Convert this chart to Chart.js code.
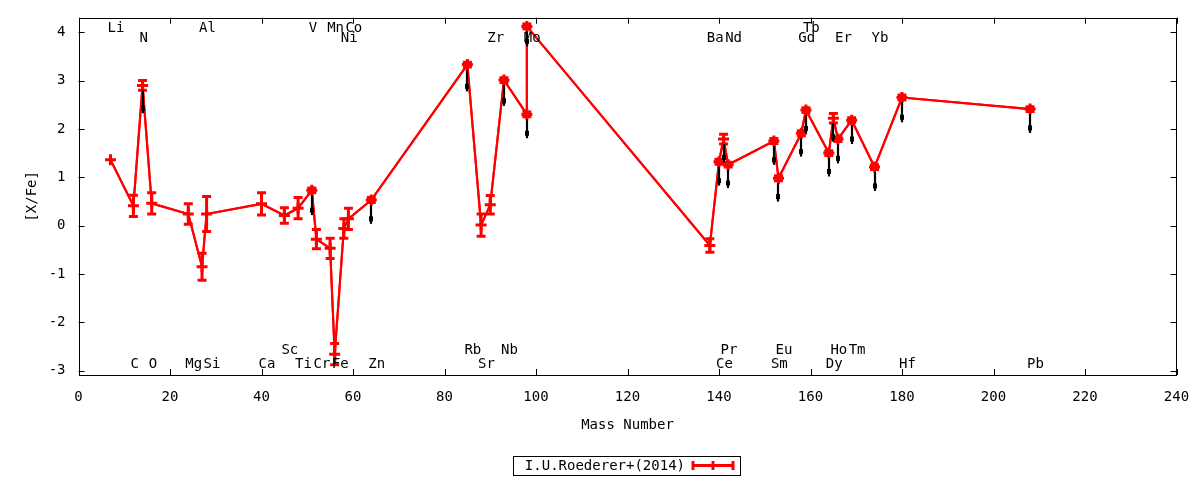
<!DOCTYPE html>
<html>
<head>
<meta charset="utf-8">
<script src="https://cdn.jsdelivr.net/npm/chart.js@4/dist/chart.umd.min.js"></script>
<style>
html,body{margin:0;padding:0;background:#fff;}
#wrap{width:1200px;height:480px;position:relative;}
</style>
</head>
<body>
<div id="wrap"><canvas id="c" width="1200" height="480"></canvas></div>
<script>
// ---- data ----
const elementNames = ['Li','C','N','O','Mg','Al','Si','Ca','Sc','Ti','V','Cr','Mn','Fe','Ni','Co','Zn','Rb','Sr','Zr','Nb','Mo','Mo','Ba','Ce','Pr','Nd','Sm','Eu','Gd','Tb','Dy','Ho','Er','Tm','Yb','Hf','Pb'];
const massNumbers = [7,12,14,16,24,27,28,40,45,48,51,52,55,56,58,59,64,85,88,90,93,98,98,138,140,141,142,152,153,158,159,164,165,166,169,174,180,208];
const abundances = [1.36,0.41,2.90,0.46,0.24,-0.85,0.24,0.45,0.21,0.36,0.73,-0.28,-0.47,-2.66,-0.06,0.14,0.53,3.33,0.01,0.43,3.01,2.30,4.12,-0.41,1.32,1.79,1.26,1.75,0.98,1.91,2.39,1.50,2.22,1.79,2.18,1.21,2.65,2.41];
const abundanceErrors = [0,0.22,0.1,0.22,0.21,0.28,0.36,0.23,0.16,0.22,0.05,0.2,0.21,0.22,0.2,0.22,0.05,0.05,0.23,0.19,0.05,0.05,0.05,0.14,0.05,0.1,0.05,0.05,0.05,0.05,0.05,0.05,0.1,0.05,0.05,0.05,0.05,0.05];
const lowerValues = [null,null,2.43,null,null,null,null,null,null,null,0.32,null,null,null,null,null,0.14,2.88,null,null,2.58,1.91,3.81,null,0.93,1.41,0.88,1.36,0.60,1.53,2.01,1.12,1.84,1.39,1.79,0.82,2.24,2.02];

const labelTop1 = ['Li','Al','V','Mn','Co','Tb'];
const labelTop1Mass = [7,27,51,55,59,159];
const labelTop2 = ['N','Ni','Zr','Mo','Ba','Nd','Gd','Er','Yb'];
const labelTop2Mass = [14,58,90,98,138,142,158,166,174];
const labelBot1 = ['Sc','Rb','Nb','Pr','Eu','Ho','Tm'];
const labelBot1Mass = [45,85,93,141,153,165,169];
const labelBot2 = ['C','O','Mg','Si','Ca','Ti','Cr','Fe','Zn','Sr','Ce','Sm','Dy','Hf','Pb'];
const labelBot2Mass = [12,16,24,28,40,48,52,56,64,88,140,152,164,180,208];

const yTicks = [-3,-2,-1,0,1,2,3,4];
const seriesName = 'I.U.Roederer+(2014)';
const xTitle = 'Mass Number';
const yTitle = '[X/Fe]';

const FONT = '"DejaVu Sans Mono", monospace';
const RED = '#ff0000';

const seriesPoints = massNumbers.map((m,i)=>({x:m,y:abundances[i]}));

const decor = {
  id:'decor',
  afterDatasetsDraw(chart){
    const ctx = chart.ctx, xs = chart.scales.x, ys = chart.scales.y, a = chart.chartArea;
    ctx.save();
    // connecting segments through the scales, as thin filled quads
    ctx.fillStyle = RED;
    for(let i=1;i<massNumbers.length;i++){
      const x1 = xs.getPixelForValue(massNumbers[i-1]), y1 = ys.getPixelForValue(abundances[i-1]);
      const x2 = xs.getPixelForValue(massNumbers[i]),   y2 = ys.getPixelForValue(abundances[i]);
      const dx = x2-x1, dy = y2-y1, len = Math.hypot(dx,dy) || 1;
      const nx = -dy/len, ny = dx/len, w = 1.1;
      ctx.beginPath();
      ctx.moveTo(x1+nx*w, y1+ny*w);
      ctx.lineTo(x2+nx*w, y2+ny*w);
      ctx.lineTo(x2-nx*w, y2-ny*w);
      ctx.lineTo(x1-nx*w, y1-ny*w);
      ctx.closePath();
      ctx.fill();
    }
    // error bars
    ctx.strokeStyle = RED; ctx.lineWidth = 3; ctx.lineCap = 'butt';
    abundanceErrors.forEach((e,i)=>{
      if(!e) return;
      const px = xs.getPixelForValue(massNumbers[i]);
      const yt = ys.getPixelForValue(abundances[i]+e);
      const yb = ys.getPixelForValue(abundances[i]-e);
      ctx.beginPath();
      ctx.moveTo(px,yt); ctx.lineTo(px,yb);
      ctx.moveTo(px-4.5,yt); ctx.lineTo(px+4.5,yt);
      ctx.moveTo(px-4.5,yb); ctx.lineTo(px+4.5,yb);
      ctx.stroke();
    });
    // black offsets
    ctx.strokeStyle = '#000'; ctx.fillStyle = '#000'; ctx.lineWidth = 2.2;
    lowerValues.forEach((v,i)=>{
      if(v===null) return;
      const px = Math.round(xs.getPixelForValue(massNumbers[i]));
      const y1 = ys.getPixelForValue(abundances[i]) + 5;
      const y2 = ys.getPixelForValue(v);
      ctx.beginPath(); ctx.moveTo(px,y1); ctx.lineTo(px,y2+5); ctx.stroke();
      ctx.fillRect(px-2,y2-2.5,4,5);
    });
    // frame and inward ticks
    ctx.strokeStyle = '#000'; ctx.lineWidth = 1;
    ctx.strokeRect(Math.round(a.left)+0.5, Math.round(a.top)+0.5, Math.round(a.right-a.left)-1, Math.round(a.bottom-a.top));
    ctx.beginPath();
    xs.ticks.forEach(t=>{
      const px = Math.round(xs.getPixelForValue(t.value))+0.5;
      ctx.moveTo(px,a.bottom); ctx.lineTo(px,a.bottom-6);
      ctx.moveTo(px,a.top); ctx.lineTo(px,a.top+6);
    });
    ys.ticks.forEach(t=>{
      const py = Math.round(ys.getPixelForValue(t.value))+0.5;
      ctx.moveTo(a.left,py); ctx.lineTo(a.left+6,py);
      ctx.moveTo(a.right,py); ctx.lineTo(a.right-6,py);
    });
    ctx.stroke();
    // element labels
    ctx.fillStyle = '#000';
    ctx.font = '14px ' + FONT;
    ctx.textAlign = 'left'; ctx.textBaseline = 'middle';
    const rows = [[labelTop1,labelTop1Mass,a.top+11],[labelTop2,labelTop2Mass,a.top+21],
                  [labelBot1,labelBot1Mass,a.bottom-25],[labelBot2,labelBot2Mass,a.bottom-11]];
    rows.forEach(([txt,ms,y])=>{
      txt.forEach((t,i)=>{ ctx.fillText(t, xs.getPixelForValue(ms[i])-3, y); });
    });
    // titles
    ctx.textAlign = 'center';
    ctx.fillText(xTitle, (a.left+a.right)/2, 425);
    ctx.save();
    ctx.translate(32, (a.top+a.bottom)/2);
    ctx.rotate(-Math.PI/2);
    ctx.fillText(yTitle, 0, 0);
    ctx.restore();
    // legend
    ctx.lineWidth = 1; ctx.strokeStyle = '#000';
    ctx.strokeRect(513.5,456.5,227,19);
    ctx.textAlign = 'right';
    ctx.fillText(seriesName, 685, 466);
    ctx.strokeStyle = RED; ctx.lineWidth = 3;
    ctx.beginPath();
    ctx.moveTo(692,465.5); ctx.lineTo(734,465.5);
    ctx.moveTo(693,461); ctx.lineTo(693,470);
    ctx.moveTo(733,461); ctx.lineTo(733,470);
    ctx.moveTo(713,461); ctx.lineTo(713,470);
    ctx.stroke();
    ctx.restore();
  }
};

new Chart(document.getElementById('c'), {
  type:'scatter',
  data:{datasets:[{
    label: seriesName,
    data: seriesPoints,
    showLine: true,
    borderColor: RED,
    backgroundColor: RED,
    borderWidth: 2,
    tension: 0,
    pointStyle: 'cross',
    pointRadius: 5.5,
    pointBorderWidth: 3,
    pointBorderColor: RED,
    pointHoverRadius: 5.5
  }]},
  options:{
    responsive:false,
    animation:false,
    events:[],
    layout:{padding:{top:17.7,right:23.5,left:0,bottom:0}},
    plugins:{legend:{display:false},tooltip:{enabled:false}},
    scales:{
      x:{
        type:'linear', min:0, max:240,
        ticks:{stepSize:20, color:'#000', font:{family:FONT,size:14}, padding:14, maxRotation:0},
        grid:{display:false, drawTicks:false},
        border:{display:false},
        afterFit(s){ s.height = 105; s.paddingLeft = 0; s.paddingRight = 0; }
      },
      y:{
        type:'linear', min:-3.09, max:4.30,
        afterBuildTicks(s){ s.ticks = yTicks.map(v=>({value:v})); },
        ticks:{color:'#000', font:{family:FONT,size:14}, padding:13},
        grid:{display:false, drawTicks:false},
        border:{display:false},
        afterFit(s){ s.width = 78.5; s.paddingTop = 0; s.paddingBottom = 0; }
      }
    }
  },
  plugins:[decor]
});
</script>
</body>
</html>
